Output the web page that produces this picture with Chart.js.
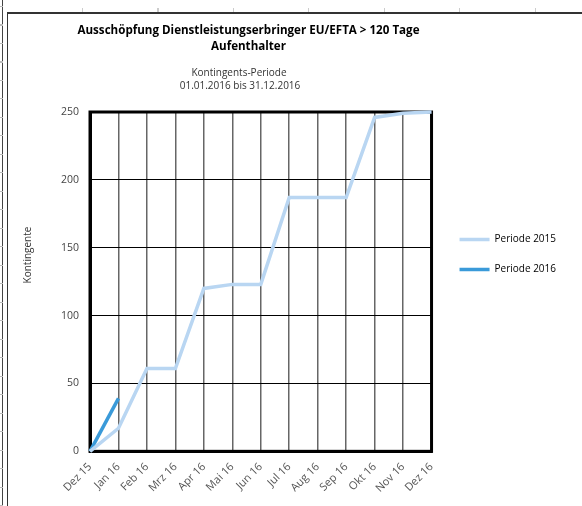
<!DOCTYPE html>
<html>
<head>
<meta charset="utf-8">
<script src="https://cdn.jsdelivr.net/npm/chart.js@4/dist/chart.umd.min.js"></script>
<style>
  html, body { margin: 0; padding: 0; background: #fff; width: 582px; height: 506px; overflow: hidden; }
  #page { position: absolute; left: 2px; top: 0; width: 1px; height: 506px; background: #444; }
  #pageTicks { position: absolute; left: 0; top: 6px; width: 3px; height: 500px;
    background: repeating-linear-gradient(to bottom, #bbb 0px, #bbb 1px, transparent 1px, transparent 18.5px); }
  #topTicks { position: absolute; left: 82px; top: 8px; width: 500px; height: 4px;
    background: repeating-linear-gradient(to right, #ccc 0px, #ccc 1px, transparent 1px, transparent 75.5px); }
  #frame { position: absolute; left: 7px; top: 12px; width: 600px; height: 520px;
    border-left: 1px solid #333; border-top: 2px solid #333; }
  #wrap { position: absolute; left: 8px; top: 14px; width: 574px; height: 492px; }
</style>
</head>
<body>
<div id="page"></div>
<div id="pageTicks"></div>
<div id="topTicks"></div>
<div id="frame"></div>
<div id="wrap"><canvas id="c"></canvas></div>
<script>
const categories = ['Dez 15','Jan 16','Feb 16','Mrz 16','Apr 16','Mai 16','Jun 16','Jul 16','Aug 16','Sep 16','Okt 16','Nov 16','Dez 16'];
const periode2015 = [0, 17, 61, 61, 120, 123, 123, 187, 187, 187, 246, 249, 250];
const periode2016 = [0, 39];
const yTicks = [0, 50, 100, 150, 200, 250];
const titleLines = ['Ausschöpfung Dienstleistungserbringer EU/EFTA > 120 Tage', 'Aufenthalter'];
const subtitleLines = ['Kontingents-Periode', '01.01.2016 bis 31.12.2016'];
const yAxisTitle = 'Kontingente';

const FONT = "'Open Sans', 'Noto Sans', sans-serif";
const HEADER_HEIGHT = 107;
const LEGEND_GAP = 8;

// Layout spacer boxes: header space above the plot, gap between plot and legend
function makeSpacer(position, horizontal, size) {
  return {
    position, weight: 0, fullSize: false, options: { display: false },
    left: 0, top: 0, right: 0, bottom: 0, width: 0, height: 0,
    isHorizontal() { return horizontal; },
    update(maxWidth, maxHeight) {
      if (horizontal) { this.width = maxWidth; this.height = size; }
      else { this.width = size; this.height = maxHeight; }
    },
    draw() {}
  };
}
const spacerPlugin = {
  id: 'spacers',
  beforeInit(chart) {
    Chart.layouts.addBox(chart, makeSpacer('top', true, HEADER_HEIGHT));
    Chart.layouts.addBox(chart, makeSpacer('right', false, LEGEND_GAP));
  }
};

const textPlugin = {
  id: 'texts',
  afterDraw(chart) {
    const ctx = chart.ctx;
    ctx.save();
    ctx.fillStyle = '#000';
    ctx.textAlign = 'center';
    ctx.textBaseline = 'middle';
    ctx.font = "bold 11.6px " + FONT;
    ctx.fillText(titleLines[0], 240.5, 16.5);
    ctx.fillText(titleLines[1], 240.5, 33);
    ctx.fillStyle = '#333';
    ctx.font = "10px " + FONT;
    ctx.fillText(subtitleLines[0], 231, 59);
    ctx.fillText(subtitleLines[1], 232, 72);
    ctx.translate(20, 241);
    ctx.rotate(-Math.PI / 2);
    ctx.fillText(yAxisTitle, 0, 0);
    ctx.restore();
  }
};

const borderPlugin = {
  id: 'plotBorder',
  beforeDatasetsDraw(chart) {
    const {ctx, chartArea: a} = chart;
    ctx.save();
    ctx.strokeStyle = '#000';
    ctx.lineWidth = 3;
    ctx.strokeRect(a.left, a.top, a.right - a.left, a.bottom - a.top);
    ctx.restore();
  }
};

new Chart(document.getElementById('c'), {
  type: 'line',
  data: {
    labels: categories,
    datasets: [
      { label: 'Periode 2015', data: periode2015, borderColor: '#B9D6F2', backgroundColor: '#B9D6F2',
        borderWidth: 3.5, pointRadius: 0, tension: 0, clip: false },
      { label: 'Periode 2016', data: periode2016, borderColor: '#3A9AD9', backgroundColor: '#3A9AD9',
        borderWidth: 3.5, pointRadius: 0, tension: 0, clip: false }
    ]
  },
  options: {
    responsive: true,
    maintainAspectRatio: false,
    animation: false,
    layout: { padding: { top: -9, left: 42, right: 16, bottom: 2 } },
    plugins: {
      title: { display: false },
      tooltip: { enabled: false },
      legend: {
        position: 'right',
        align: 'center',
        labels: {
          usePointStyle: true,
          pointStyle: 'line',
          pointStyleWidth: 30,
          boxHeight: 10,
          padding: 20,
          color: '#000',
          font: { family: FONT, size: 10 }
        }
      }
    },
    scales: {
      x: {
        offset: false,
        grid: { color: '#666', lineWidth: 1.5, drawTicks: false },
        border: { display: true, color: '#000', width: 3 },
        ticks: { minRotation: 45, maxRotation: 45, color: '#555', padding: 9,
                 font: { family: FONT, size: 11 }, autoSkip: false }
      },
      y: {
        min: 0, max: 250,
        afterBuildTicks(scale) { scale.ticks = yTicks.map(v => ({ value: v })); },
        grid: { color: '#000', lineWidth: 1, drawTicks: false },
        border: { display: true, color: '#000', width: 3 },
        ticks: { color: '#444', padding: 11, font: { family: FONT, size: 10.5 } }
      }
    }
  },
  plugins: [spacerPlugin, borderPlugin, textPlugin]
});
</script>
</body>
</html>
